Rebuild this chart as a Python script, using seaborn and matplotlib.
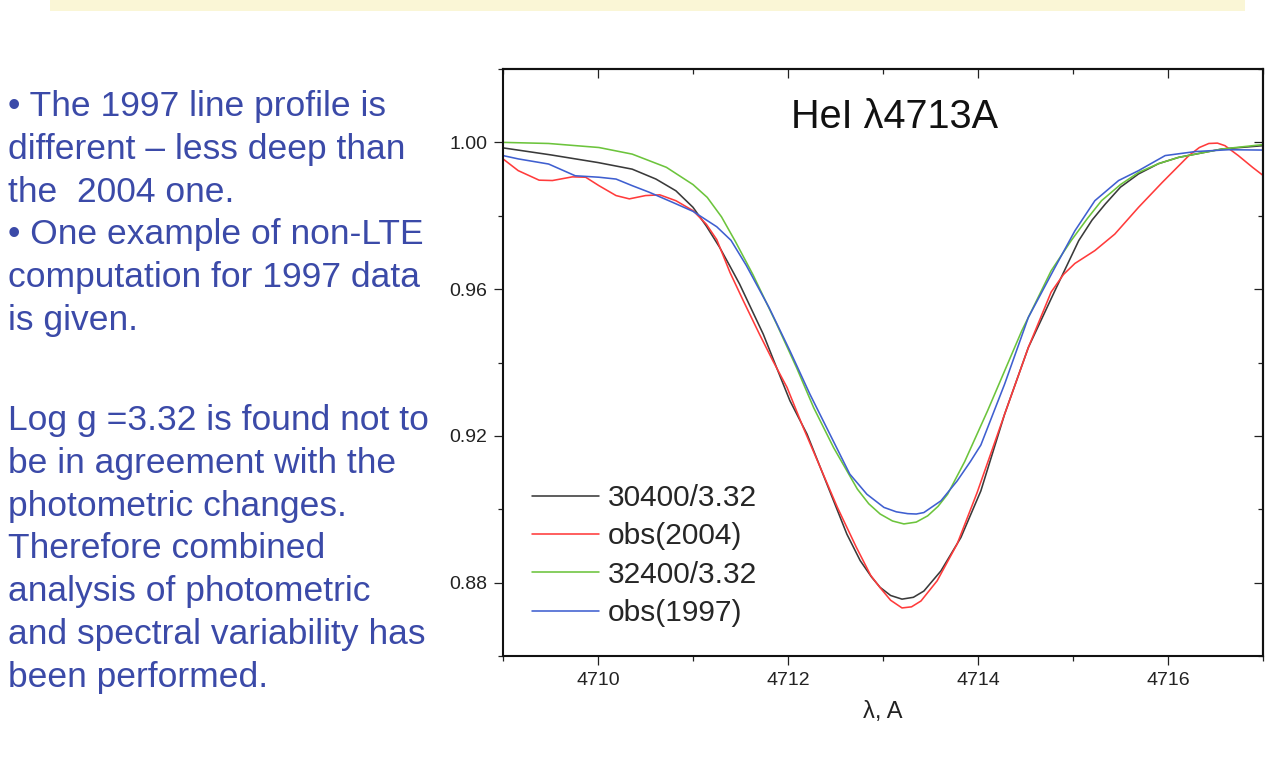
import matplotlib
matplotlib.use("Agg")
import matplotlib.pyplot as plt
from matplotlib.lines import Line2D
from matplotlib.patches import Rectangle
from matplotlib.ticker import MultipleLocator, NullFormatter
import pandas as pd
import seaborn as sns

# ---- HeI 4713 line profiles: wavelength (A) and normalised flux ----
wl_30400 = [4709.00, 4709.50, 4710.00, 4710.36, 4710.61, 4710.82, 4711.00, 4711.14,
            4711.28, 4711.39, 4711.49, 4711.74, 4711.88, 4712.02, 4712.20, 4712.34,
            4712.48, 4712.62, 4712.76, 4712.88, 4712.97, 4713.08, 4713.20, 4713.32,
            4713.43, 4713.61, 4713.82, 4714.03, 4714.28, 4714.53, 4714.81, 4715.06,
            4715.20, 4715.34, 4715.50, 4715.69, 4715.90, 4716.11, 4716.57, 4717.00]
fl_30400 = [0.9985, 0.9966, 0.9945, 0.9927, 0.9900, 0.9868, 0.9823, 0.9772,
            0.9714, 0.9662, 0.9614, 0.9477, 0.9386, 0.9296, 0.9205, 0.9114,
            0.9023, 0.8932, 0.8860, 0.8815, 0.8787, 0.8765, 0.8755, 0.8760,
            0.8777, 0.8832, 0.8923, 0.9050, 0.9259, 0.9441, 0.9596, 0.9732,
            0.9788, 0.9832, 0.9878, 0.9914, 0.9942, 0.9959, 0.9982, 0.9991]

wl_2004 = [4709.00, 4709.16, 4709.38, 4709.52, 4709.73, 4709.87, 4710.01, 4710.19,
           4710.33, 4710.50, 4710.65, 4710.82, 4711.00, 4711.14, 4711.25, 4711.39,
           4711.53, 4711.70, 4711.84, 4711.99, 4712.16, 4712.34, 4712.52, 4712.72,
           4712.87, 4712.97, 4713.08, 4713.20, 4713.30, 4713.40, 4713.57, 4713.78,
           4713.99, 4714.28, 4714.53, 4714.77, 4714.90, 4715.02, 4715.23, 4715.44,
           4715.69, 4715.94, 4716.22, 4716.33, 4716.43, 4716.52, 4716.60, 4716.74,
           4716.89, 4717.00]
fl_2004 = [0.9955, 0.9923, 0.9897, 0.9896, 0.9906, 0.9905, 0.9882, 0.9855,
           0.9846, 0.9855, 0.9857, 0.9841, 0.9814, 0.9777, 0.9735, 0.9645,
           0.9568, 0.9477, 0.9405, 0.9332, 0.9223, 0.9114, 0.9005, 0.8896,
           0.8820, 0.8786, 0.8752, 0.8731, 0.8734, 0.8750, 0.8805, 0.8905,
           0.9045, 0.9259, 0.9441, 0.9592, 0.9640, 0.9670, 0.9705, 0.9750,
           0.9823, 0.9891, 0.9964, 0.9986, 0.9997, 0.9998, 0.9991, 0.9964,
           0.9932, 0.9910]

wl_32400 = [4709.00, 4709.48, 4710.01, 4710.36, 4710.72, 4711.00, 4711.15, 4711.30,
            4711.45, 4711.63, 4711.88, 4712.09, 4712.27, 4712.48, 4712.73, 4712.85,
            4712.97, 4713.10, 4713.22, 4713.35, 4713.47, 4713.58, 4713.68, 4713.86,
            4714.10, 4714.46, 4714.77, 4714.98, 4715.15, 4715.30, 4715.50, 4715.69,
            4715.90, 4716.11, 4716.57, 4717.00]
fl_32400 = [1.0000, 0.9997, 0.9986, 0.9968, 0.9932, 0.9885, 0.9850, 0.9797,
            0.9728, 0.9640, 0.9505, 0.9386, 0.9277, 0.9168, 0.9055, 0.9015,
            0.8987, 0.8968, 0.8960, 0.8965, 0.8982, 0.9008, 0.9041, 0.9130,
            0.9268, 0.9486, 0.9650, 0.9732, 0.9792, 0.9841, 0.9885, 0.9918,
            0.9942, 0.9959, 0.9982, 0.9994]

wl_1997 = [4709.00, 4709.16, 4709.48, 4709.76, 4710.01, 4710.19, 4710.36, 4710.54,
           4710.79, 4711.00, 4711.25, 4711.40, 4711.56, 4711.80, 4712.02, 4712.23,
           4712.44, 4712.65, 4712.83, 4713.01, 4713.14, 4713.26, 4713.35, 4713.43,
           4713.61, 4713.78, 4713.92, 4714.03, 4714.28, 4714.53, 4714.81, 4715.02,
           4715.23, 4715.48, 4715.69, 4715.97, 4716.29, 4716.64, 4717.00]
fl_1997 = [0.9964, 0.9955, 0.9941, 0.9909, 0.9905, 0.9900, 0.9882, 0.9864,
           0.9836, 0.9812, 0.9770, 0.9733, 0.9665, 0.9550, 0.9432, 0.9314,
           0.9205, 0.9096, 0.9041, 0.9005, 0.8993, 0.8988, 0.8987, 0.8991,
           0.9023, 0.9077, 0.9130, 0.9175, 0.9341, 0.9523, 0.9659, 0.9759,
           0.9841, 0.9896, 0.9923, 0.9964, 0.9975, 0.9980, 0.9979]

series_names = ["30400/3.32", "obs(2004)", "32400/3.32", "obs(1997)"]
series_colors = ["#3a3a3a", "#ff3b3b", "#6cc43c", "#3f5fd0"]
x_ticks = [4710, 4712, 4714, 4716]
y_ticks = [0.88, 0.92, 0.96, 1.00]
y_tick_labels = ["0.88", "0.92", "0.96", "1.00"]

bullet_lines = [
    "\u2022 The 1997 line profile is",
    "different \u2013 less deep than",
    "the  2004 one.",
    "\u2022 One example of non-LTE",
    "computation for 1997 data",
    "is given.",
]
summary_lines = [
    "Log g =3.32 is found not to",
    "be in agreement with the",
    "photometric changes.",
    "Therefore combined",
    "analysis of photometric",
    "and spectral variability has",
    "been performed.",
]

frames = []
for name, wl, fl in zip(series_names,
                        [wl_30400, wl_2004, wl_32400, wl_1997],
                        [fl_30400, fl_2004, fl_32400, fl_1997]):
    frames.append(pd.DataFrame({"wavelength": wl, "flux": fl, "model": name}))
profiles = pd.concat(frames, ignore_index=True)

sns.set_style("ticks")
plt.rcParams["font.family"] = ["Liberation Sans", "DejaVu Sans"]

W, H = 1266, 773
fig = plt.figure(figsize=(W / 100, H / 100), dpi=100)
fig.patch.set_facecolor("white")

# pale banner across the top of the slide
fig.patches.append(Rectangle((50 / W, 1 - 11 / H), 1195 / W, 11 / H,
                             transform=fig.transFigure, facecolor="#faf6d6",
                             edgecolor="none", zorder=0))

ax = fig.add_axes([503 / W, 1 - 656 / H, 760 / W, 587 / H])
sns.lineplot(data=profiles, x="wavelength", y="flux", hue="model",
             hue_order=series_names, palette=series_colors, sort=False,
             estimator=None, linewidth=1.15, ax=ax, legend=False)

ax.set_xlim(4709, 4717)
ax.set_ylim(0.86, 1.02)
ax.set_xticks(x_ticks)
ax.set_yticks(y_ticks)
ax.set_yticklabels(y_tick_labels)
ax.xaxis.set_minor_locator(MultipleLocator(1))
ax.yaxis.set_minor_locator(MultipleLocator(0.02))
ax.tick_params(axis="both", which="major", length=6.5, width=0.9,
               labelsize=14, colors="#222222", pad=5, direction="out")
ax.tick_params(axis="both", which="minor", length=3.3, width=0.9,
               colors="#222222", direction="out")
for side in ["left", "right", "top", "bottom"]:
    ax.spines[side].set_visible(True)
    ax.spines[side].set_linewidth(1.5)
    ax.spines[side].set_color("#111111")

# inward-pointing ticks on the top and right frame, without labels
top = ax.secondary_xaxis("top")
right = ax.secondary_yaxis("right")
top.set_xticks(x_ticks)
right.set_yticks(y_ticks)
top.xaxis.set_minor_locator(MultipleLocator(1))
right.yaxis.set_minor_locator(MultipleLocator(0.02))
for sec in (top, right):
    sec.tick_params(which="major", direction="in", length=6.5, width=0.9,
                    colors="#222222")
    sec.tick_params(which="minor", direction="in", length=3.3, width=0.9,
                    colors="#222222")
    for spine in sec.spines.values():
        spine.set_linewidth(1.5)
        spine.set_color("#111111")
top.xaxis.set_major_formatter(NullFormatter())
right.yaxis.set_major_formatter(NullFormatter())

ax.set_xlabel("\u03bb, A", fontsize=17, color="#222222", labelpad=9)
ax.set_ylabel("")

ax.text(0.515, 0.8995, "HeI \u03bb4713A", transform=ax.transAxes,
        ha="center", va="baseline", fontsize=28.5, color="#111111")

handles = [Line2D([], [], color=c, lw=1.15) for c in series_colors]
ax.legend(handles, series_names, loc="upper left", frameon=False,
          bbox_to_anchor=(532 / W, 1 - 484 / H), bbox_transform=fig.transFigure,
          fontsize=21.5, handlelength=2.25, handletextpad=0.3, labelspacing=0.35,
          borderpad=0, borderaxespad=0)

text_color = "#3b4aa8"
for i, line in enumerate(bullet_lines):
    fig.text(8 / W, 1 - (116 + 42.8 * i) / H, line, ha="left", va="baseline",
             fontsize=25.5, color=text_color)
for i, line in enumerate(summary_lines):
    fig.text(8 / W, 1 - (430 + 42.8 * i) / H, line, ha="left", va="baseline",
             fontsize=25.5, color=text_color)

fig.savefig("out.png", dpi=100, facecolor="white")
